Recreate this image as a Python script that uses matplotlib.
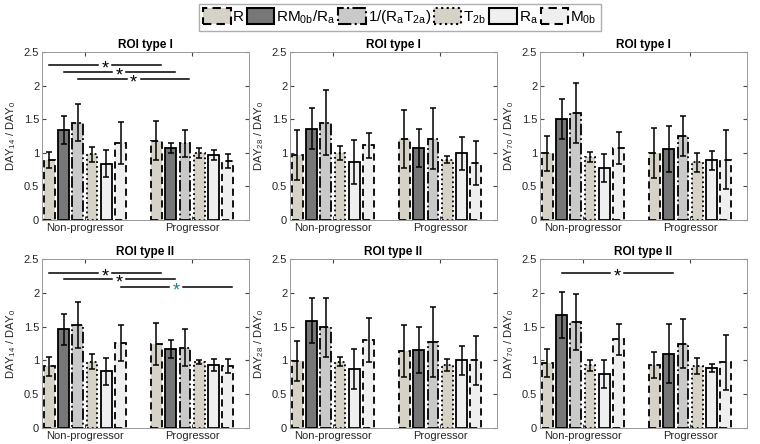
import numpy as np
import matplotlib
matplotlib.use("Agg")
import matplotlib.pyplot as plt
from matplotlib.patches import Patch

plt.rcParams["font.family"] = ["Liberation Sans", "DejaVu Sans"]
plt.rcParams["mathtext.default"] = "regular"

groups = ["Non-progressor", "Progressor"]
measures = ["R", r"RM$_{0b}$/R$_{a}$", r"1/(R$_{a}$T$_{2a}$)", r"T$_{2b}$", r"R$_{a}$", r"M$_{0b}$"]
days = ["14", "28", "70"]
roi_titles = ["ROI type I", "ROI type II"]

# means [group][measure] and half-widths of error bars, per panel (row = ROI, col = day)
means_roi1_d14 = [[0.89, 1.34, 1.45, 0.98, 0.84, 1.15], [1.18, 1.07, 1.14, 1.00, 0.97, 0.88]]
err_roi1_d14 = [[0.12, 0.21, 0.27, 0.11, 0.20, 0.31], [0.29, 0.08, 0.20, 0.07, 0.07, 0.10]]
means_roi1_d28 = [[0.97, 1.36, 1.45, 1.00, 0.86, 1.11], [1.20, 1.07, 1.21, 0.90, 0.99, 0.85]]
err_roi1_d28 = [[0.37, 0.30, 0.48, 0.10, 0.33, 0.19], [0.43, 0.28, 0.45, 0.05, 0.25, 0.33]]
means_roi1_d70 = [[0.99, 1.50, 1.59, 0.94, 0.77, 1.07], [1.00, 1.06, 1.25, 0.86, 0.89, 0.90]]
err_roi1_d70 = [[0.26, 0.30, 0.45, 0.07, 0.21, 0.24], [0.37, 0.34, 0.30, 0.14, 0.14, 0.44]]
means_roi2_d14 = [[0.91, 1.46, 1.52, 0.98, 0.84, 1.26], [1.24, 1.17, 1.19, 0.98, 0.93, 0.92]]
err_roi2_d14 = [[0.14, 0.23, 0.34, 0.11, 0.20, 0.27], [0.31, 0.13, 0.28, 0.03, 0.09, 0.10]]
means_roi2_d28 = [[0.99, 1.59, 1.49, 0.98, 0.87, 1.30], [1.14, 1.15, 1.27, 0.93, 1.00, 1.00]]
err_roi2_d28 = [[0.30, 0.33, 0.44, 0.07, 0.30, 0.32], [0.39, 0.34, 0.52, 0.09, 0.22, 0.36]]
means_roi2_d70 = [[0.96, 1.67, 1.57, 0.93, 0.80, 1.31], [0.93, 1.10, 1.25, 0.92, 0.89, 0.97]]
err_roi2_d70 = [[0.21, 0.34, 0.41, 0.08, 0.21, 0.23], [0.19, 0.44, 0.36, 0.12, 0.06, 0.41]]

means = [[means_roi1_d14, means_roi1_d28, means_roi1_d70],
         [means_roi2_d14, means_roi2_d28, means_roi2_d70]]
errs = [[err_roi1_d14, err_roi1_d28, err_roi1_d70],
        [err_roi2_d14, err_roi2_d28, err_roi2_d70]]

# significance: (measure index, height, star colour) per panel
sig_roi1_d14 = [(0, 2.3, "k"), (1, 2.2, "k"), (2, 2.1, "k")]
sig_roi2_d14 = [(0, 2.3, "k"), (1, 2.2, "k"), (5, 2.08, "#1f7f8c")]
sig_roi2_d70 = [(1, 2.3, "k")]
sigs = {(0, 0): sig_roi1_d14, (1, 0): sig_roi2_d14, (1, 2): sig_roi2_d70}

face = ["#d6d2c8", "#777777", "#c9c9c9", "#d6d2c8", "#efefef", "#efefef"]
edge_style = [(0, (4, 2.5)), "-", "-.", ":", "-", (0, (4, 2.5))]

fig = plt.figure(figsize=(7.6, 4.44), dpi=100)
col_left = [42, 290, 540]
row_box = [(52, 220), (259, 428)]
W, H = 760, 444
spacing, width = 0.133, 0.10

for r in range(2):
    for c in range(3):
        top, bot = row_box[r]
        ax = fig.add_axes([col_left[c] / W, 1 - bot / H, 207 / W, (bot - top) / H])
        for g in range(2):
            for i in range(6):
                x = g + 1 + (i - 2.5) * spacing
                ax.bar(x, means[r][c][g][i], width=width, color=face[i],
                       edgecolor="k", linewidth=1.3, linestyle=edge_style[i], zorder=2)
                ax.errorbar(x, means[r][c][g][i], yerr=errs[r][c][g][i], color="k",
                            linewidth=1.1, capsize=2.5, capthick=1.1, zorder=3)
        for i, y, col in sigs.get((r, c), []):
            x0 = 1 + (i - 2.5) * spacing
            x1 = 2 + (i - 2.5) * spacing + 0.04
            xm = (x0 + x1) / 2
            ax.plot([x0, xm - 0.065], [y, y], color="k", lw=1.1, zorder=3)
            ax.plot([xm + 0.065, x1], [y, y], color="k", lw=1.1, zorder=3)
            ax.text(xm, y - 0.06, "*", ha="center", va="center", fontsize=13, color=col)
        ax.set_xlim(0.6, 2.53)
        ax.set_ylim(0, 2.5)
        ax.set_yticks([0, 0.5, 1, 1.5, 2, 2.5])
        ax.set_yticklabels(["0", "0.5", "1", "1.5", "2", "2.5"])
        ax.set_xticks([1, 2])
        ax.set_xticklabels(groups)
        ax.tick_params(direction="in", length=3, labelsize=8, colors="#444444",
                       labelcolor="#262626", top=True, right=True, pad=2)
        for s in ax.spines.values():
            s.set_color("#999999")
            s.set_linewidth(0.7)
        ax.set_title(roi_titles[r], fontsize=8.5, fontweight="bold", pad=3)
        ax.set_ylabel(r"DAY$_{%s}$ / DAY$_{0}$" % days[c], fontsize=8, color="#262626", labelpad=4)

handles = [Patch(facecolor=face[i], edgecolor="k", linewidth=1.5, linestyle=edge_style[i])
           for i in range(6)]
fig.legend(handles, measures, loc="lower center", bbox_to_anchor=(0.526, 0.93), ncol=6,
           fontsize=11, frameon=True, fancybox=False, edgecolor="#999999",
           handlelength=1.8, handleheight=1.25, handletextpad=0.12, columnspacing=0.2,
           borderpad=0.3, borderaxespad=0)

fig.savefig("out.png", dpi=100)
